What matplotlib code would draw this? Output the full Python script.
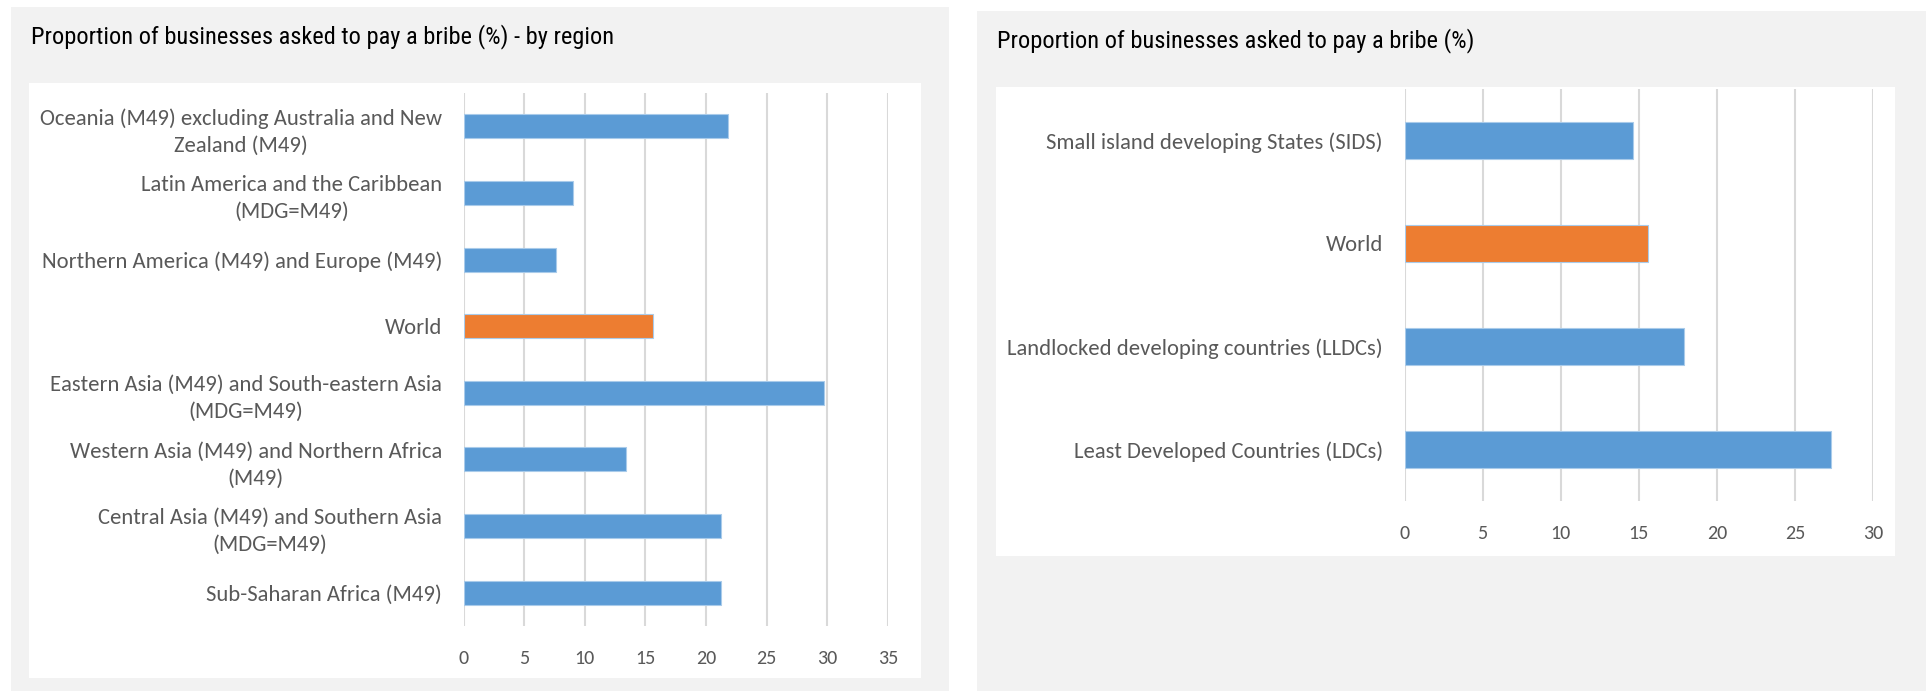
import matplotlib
matplotlib.use("Agg")
import matplotlib.pyplot as plt
from matplotlib import font_manager
from matplotlib.patches import Rectangle

# Left panel: bribery rate by SDG region
region_labels = [
    "Oceania (M49) excluding Australia and New\nZealand (M49)",
    "Latin America and the Caribbean\n(MDG=M49)",
    "Northern America (M49) and Europe (M49)",
    "World",
    "Eastern Asia (M49) and South-eastern Asia\n(MDG=M49)",
    "Western Asia (M49) and Northern Africa\n(M49)",
    "Central Asia (M49) and Southern Asia\n(MDG=M49)",
    "Sub-Saharan Africa (M49)",
]
region_values = [21.8, 9.0, 7.6, 15.6, 29.7, 13.4, 21.2, 21.2]
region_ticks = [0, 5, 10, 15, 20, 25, 30, 35]

# Right panel: country groupings
group_labels = [
    "Small island developing States (SIDS)",
    "World",
    "Landlocked developing countries (LLDCs)",
    "Least Developed Countries (LDCs)",
]
group_values = [14.6, 15.6, 17.9, 27.3]
group_ticks = [0, 5, 10, 15, 20, 25, 30]

left_title = "Proportion of businesses asked to pay a bribe (%) - by region"
right_title = "Proportion of businesses asked to pay a bribe (%)"

BLUE = "#5B9BD5"
ORANGE = "#ED7D31"
PANEL_BG = "#F2F2F2"
GRID = "#D9D9D9"
LABEL_COL = "#595959"

installed = {f.name for f in font_manager.fontManager.ttflist}


def pick(*names):
    for n in names:
        if n in installed:
            return n
    return "DejaVu Sans"


title_font = pick("Roboto Condensed", "Liberation Sans Narrow", "DejaVu Sans")
label_font = pick("Carlito", "Lato", "Open Sans")

W, H = 1926, 693
fig = plt.figure(figsize=(W / 100, H / 100), dpi=100)
fig.patch.set_facecolor("white")


def box(x0, y0, x1, y1, color):
    # pixel box measured from the top-left corner
    fig.patches.append(Rectangle((x0 / W, 1 - y1 / H), (x1 - x0) / W, (y1 - y0) / H,
                                 transform=fig.transFigure, facecolor=color,
                                 edgecolor="none", zorder=-5))


def axes_px(x0, y0, x1, y1):
    ax = fig.add_axes([x0 / W, 1 - y1 / H, (x1 - x0) / W, (y1 - y0) / H])
    ax.set_zorder(2)
    return ax


def draw_bars(ax, labels, values, ticks):
    n = len(values)
    colors = [ORANGE if lab == "World" else BLUE for lab in labels]
    ax.barh(range(n), values, height=0.36, color=colors, edgecolor="#A9CBEA",
            linewidth=0.8, zorder=3)
    ax.set_ylim(n - 0.5, -0.5)
    ax.set_xlim(ticks[0], ticks[-1])
    ax.set_xticks(ticks)
    ax.set_yticks(range(n))
    ax.set_yticklabels(labels, fontfamily=label_font, fontsize=16.3,
                       color=LABEL_COL, multialignment="center", linespacing=1.45)
    ax.set_xticklabels([str(t) for t in ticks], fontfamily=label_font,
                       fontsize=14.5, color=LABEL_COL)
    ax.tick_params(axis="y", length=0, pad=15.5)
    ax.tick_params(axis="x", length=0, pad=17)
    ax.grid(axis="x", color=GRID, linewidth=1.5, zorder=0)
    ax.set_axisbelow(True)
    for s in ax.spines.values():
        s.set_visible(False)
    ax.set_facecolor("none")


# left panel
box(11, 7, 949, 691, PANEL_BG)
box(29, 83, 921, 678, "white")
fig.text(31 / W, 1 - 37 / H, left_title, fontfamily=title_font, fontsize=17.6,
         color="black", ha="left", va="center")
ax1 = axes_px(463.5, 93, 888, 626)
draw_bars(ax1, region_labels, region_values, region_ticks)

# right panel
box(977, 11, 1926, 691, PANEL_BG)
box(996, 87, 1895, 556, "white")
fig.text(997 / W, 1 - 41 / H, right_title, fontfamily=title_font, fontsize=17.6,
         color="black", ha="left", va="center")
ax2 = axes_px(1404.5, 89, 1873, 501)
draw_bars(ax2, group_labels, group_values, group_ticks)

fig.savefig("out.png", dpi=100, facecolor=fig.get_facecolor())
